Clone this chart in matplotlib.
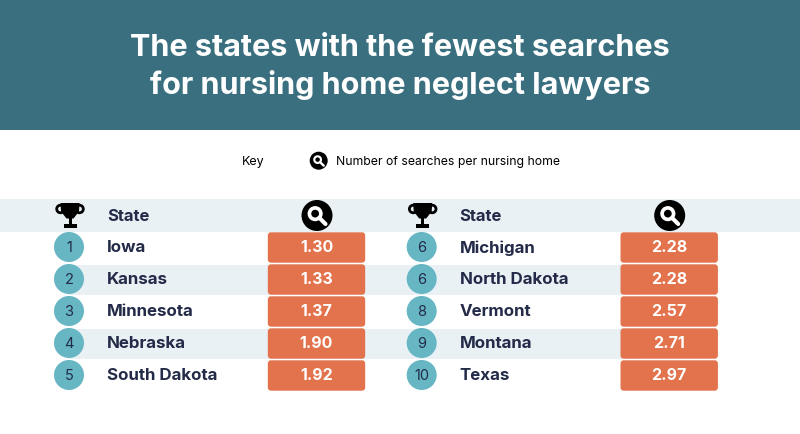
import matplotlib
matplotlib.use('Agg')
import matplotlib.pyplot as plt
from matplotlib.patches import Rectangle, FancyBboxPatch, Circle, Polygon

# ============================================
# DATA
# ============================================
title_lines = ['The states with the fewest searches', 'for nursing home neglect lawyers']
key_label = 'Key'
key_text = 'Number of searches per nursing home'
header_state = 'State'

left_ranks = [1, 2, 3, 4, 5]
left_states = ['Iowa', 'Kansas', 'Minnesota', 'Nebraska', 'South Dakota']
left_values = [1.30, 1.33, 1.37, 1.90, 1.92]

right_ranks = [6, 6, 8, 9, 10]
right_states = ['Michigan', 'North Dakota', 'Vermont', 'Montana', 'Texas']
right_values = [2.28, 2.28, 2.57, 2.71, 2.97]

# ============================================
# COLOURS / LAYOUT
# ============================================
BANNER = '#3a6f80'
BAND = '#e9f1f5'
TEAL = '#66b6c3'
ORANGE = '#e2734c'
NAVY = '#232b48'
FONT = 'Inter'

ROW_MID = 247.5
ROW_H = 32

plt.rcParams['font.family'] = [FONT, 'DejaVu Sans']

fig = plt.figure(figsize=(8, 4.34), dpi=100)
ax = fig.add_axes([0, 0, 1, 1])
ax.set_xlim(0, 800)
ax.set_ylim(434, 0)
ax.axis('off')


def magnifier(cx, cy, r):
    ax.add_patch(Circle((cx, cy), r, fc='black', ec='none', zorder=3))
    ax.add_patch(Circle((cx - r * 0.12, cy - r * 0.12), r * 0.37, fc='none', ec='white',
                        lw=r * 0.17, zorder=4))
    ax.plot([cx + r * 0.15, cx + r * 0.55], [cy + r * 0.15, cy + r * 0.55], color='white',
            lw=r * 0.19, solid_capstyle='round', zorder=4)


def trophy(cx, cy):
    # handles, cup, stem, base
    ax.add_patch(Circle((cx - 9.5, cy - 6.5), 3.8, fc='none', ec='black', lw=2, zorder=3))
    ax.add_patch(Circle((cx + 9.5, cy - 6.5), 3.8, fc='none', ec='black', lw=2, zorder=3))
    ax.add_patch(Polygon([(cx - 9.5, cy - 12.5), (cx + 9.5, cy - 12.5), (cx + 9, cy - 4), (cx + 3.5, cy + 3),
                          (cx - 3.5, cy + 3), (cx - 9, cy - 4)], fc='black', ec='none', zorder=4))
    ax.add_patch(Rectangle((cx - 1.5, cy + 2), 3, 7, fc='black', ec='none', zorder=4))
    ax.add_patch(Rectangle((cx - 6.5, cy + 8.5), 13, 4, fc='black', ec='none', zorder=4))


def draw_table(ranks, states, values, x0):
    trophy(x0 + 70, 215.5)
    ax.text(x0 + 107, 216.5, header_state, color=NAVY, fontsize=12, fontweight='bold', va='center')
    magnifier(x0 + 317, 215.5, 15.5)
    for i in range(len(ranks)):
        y = ROW_MID + i * ROW_H
        ax.add_patch(Circle((x0 + 69, y - 0.5), 15, fc=TEAL, ec='none', zorder=3))
        ax.text(x0 + 69, y + 0.5, str(ranks[i]), color=NAVY, fontsize=10.5, ha='center', va='center', zorder=4)
        ax.text(x0 + 107, y + 0.5, states[i], color=NAVY, fontsize=12.2, fontweight='bold', va='center', zorder=4)
        ax.add_patch(FancyBboxPatch((x0 + 268.5, y - 14.5), 96, 29, boxstyle='round,pad=0,rounding_size=2.5',
                                    fc=ORANGE, ec=ORANGE, lw=1, zorder=3))
        ax.text(x0 + 316.5, y + 0.5, f'{values[i]:.2f}', color='white', fontsize=11.5, fontweight='bold',
                ha='center', va='center', zorder=4)


# banner + title
ax.add_patch(Rectangle((0, 0), 800, 130, fc=BANNER, ec='none'))
ax.text(400, 48.5, title_lines[0], color='white', fontsize=22, fontweight='bold', ha='center', va='center')
ax.text(400, 85.5, title_lines[1], color='white', fontsize=22, fontweight='bold', ha='center', va='center')

# key
ax.text(253, 161.5, key_label, color='black', fontsize=9, ha='center', va='center')
magnifier(318.7, 160.7, 9)
ax.text(336, 161.5, key_text, color='black', fontsize=8.8, va='center')

# header band + stripes on every second row, they start behind the rank circles
ax.add_patch(Rectangle((0, 199), 800, 33, fc=BAND, ec='none'))
for i in range(len(left_ranks)):
    if i % 2 == 1:
        ax.add_patch(Rectangle((69, ROW_MID + i * ROW_H - 14.5), 571, 30, fc=BAND, ec='none'))

draw_table(left_ranks, left_states, left_values, 0)
draw_table(right_ranks, right_states, right_values, 352.7)

fig.savefig('out.png', dpi=100)
